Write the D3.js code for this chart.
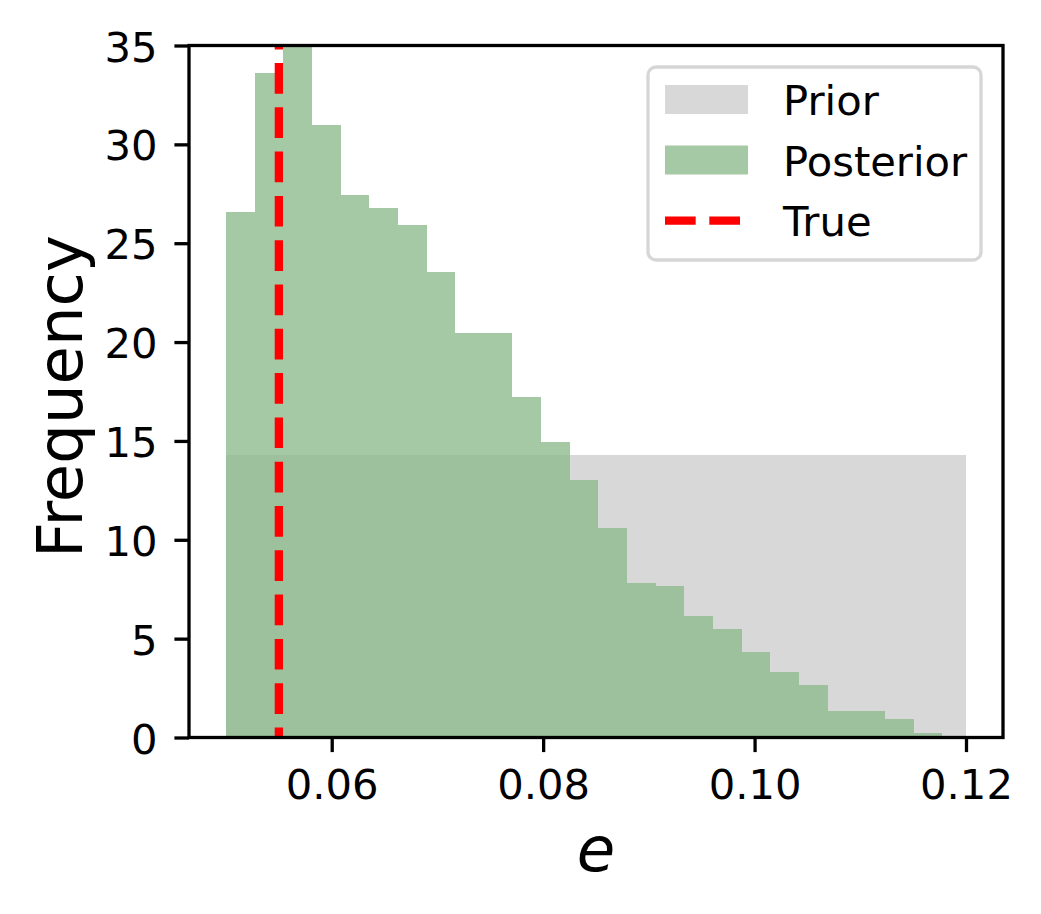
<!DOCTYPE html>
<html>
<head>
<meta charset="utf-8">
<script src="https://cdn.jsdelivr.net/npm/d3@7"></script>
<style>
  body { margin: 0; background: #fff; }
  svg { display: block; font-family: "DejaVu Sans", sans-serif; }
</style>
</head>
<body>
<div id="chart"></div>
<script>
// prior: one flat density bin over [0.05, 0.12]
const priorEdges = [0.05, 0.12];
const priorDensity = [14.29];

// posterior histogram (density), 25 equal bins starting at 0.05
const postStart = 0.05;
const postBinWidth = 0.00271;
const postDensity = [26.6, 33.6, 36.1, 30.96, 27.42, 26.76, 25.9, 23.52, 20.48, 20.48,
  17.24, 14.96, 13.04, 10.61, 7.82, 7.67, 6.15, 5.49, 4.33, 3.32,
  2.66, 1.34, 1.34, 0.94, 0.23];

const trueValue = 0.055;

const xTicks = [0.06, 0.08, 0.10, 0.12];
const yTicks = [0, 5, 10, 15, 20, 25, 30, 35];
const legendItems = ["Prior", "Posterior", "True"];

const width = 1041;
const height = 914;
const marginLeft = 189;
const marginRight = 38;
const marginTop = 45.5;
const marginBottom = 176.5;

const x = d3.scaleLinear()
    .domain([0.0465, 0.1235])
    .range([marginLeft, width - marginRight]);

const y = d3.scaleLinear()
    .domain([0, 35])
    .range([height - marginBottom, marginTop]);

const svg = d3.select("#chart").append("svg")
    .attr("width", width)
    .attr("height", height)
    .attr("viewBox", [0, 0, width, height]);

svg.append("defs").append("clipPath")
    .attr("id", "plotArea")
  .append("rect")
    .attr("x", marginLeft)
    .attr("y", marginTop)
    .attr("width", width - marginRight - marginLeft)
    .attr("height", height - marginBottom - marginTop);

const plot = svg.append("g").attr("clip-path", "url(#plotArea)");

// prior
plot.append("g")
  .selectAll("rect")
  .data(priorDensity)
  .join("rect")
    .attr("x", (d, i) => x(priorEdges[i]))
    .attr("width", (d, i) => x(priorEdges[i + 1]) - x(priorEdges[i]))
    .attr("y", d => y(d))
    .attr("height", d => y(0) - y(d))
    .attr("fill", "#d8d8d8");

// posterior
plot.append("g")
  .selectAll("rect")
  .data(postDensity)
  .join("rect")
    .attr("x", (d, i) => x(postStart + i * postBinWidth))
    .attr("width", x(postStart + postBinWidth) - x(postStart))
    .attr("y", d => y(d))
    .attr("height", d => y(0) - y(d))
    .attr("fill", "darkseagreen")
    .attr("fill-opacity", 0.8)
    .attr("shape-rendering", "crispEdges");

// true value line
plot.append("line")
    .attr("x1", x(trueValue))
    .attr("x2", x(trueValue))
    .attr("y1", y(0))
    .attr("y2", y(35))
    .attr("stroke", "red")
    .attr("stroke-width", 8.3)
    .attr("stroke-dasharray", "30.7,13.6")
    .attr("stroke-dashoffset", 20.7);

// axes
const tickFont = 41.7;

svg.append("g")
    .attr("transform", `translate(0,${y(0)})`)
    .call(d3.axisBottom(x).tickValues(xTicks).tickFormat(d3.format(".2f")).tickSize(14.6).tickSizeOuter(0))
    .call(g => g.select(".domain").remove())
    .call(g => g.selectAll(".tick line").attr("stroke", "#000").attr("stroke-width", 3.3))
    .call(g => g.selectAll(".tick text")
        .attr("y", 61.5).attr("dy", null)
        .attr("fill", "#000")
        .attr("font-size", tickFont)
        .attr("font-family", "DejaVu Sans"));

svg.append("g")
    .attr("transform", `translate(${marginLeft},0)`)
    .call(d3.axisLeft(y).tickValues(yTicks).tickSize(14.6).tickSizeOuter(0))
    .call(g => g.select(".domain").remove())
    .call(g => g.selectAll(".tick line").attr("stroke", "#000").attr("stroke-width", 3.3))
    .call(g => g.selectAll(".tick text")
        .attr("x", -31.5).attr("dy", 15.5)
        .attr("fill", "#000")
        .attr("font-size", tickFont)
        .attr("font-family", "DejaVu Sans"));

// frame
svg.append("rect")
    .attr("x", marginLeft)
    .attr("y", marginTop)
    .attr("width", width - marginRight - marginLeft)
    .attr("height", height - marginBottom - marginTop)
    .attr("fill", "none")
    .attr("stroke", "#000")
    .attr("stroke-width", 3.3);

// axis labels
svg.append("text")
    .attr("x", (marginLeft + width - marginRight) / 2)
    .attr("y", 871)
    .attr("text-anchor", "middle")
    .attr("font-size", 62.5)
    .attr("font-style", "italic")
    .text("e");

svg.append("text")
    .attr("transform", `translate(82,${(marginTop + height - marginBottom) / 2 + 5}) rotate(-90)`)
    .attr("text-anchor", "middle")
    .attr("font-size", 62.5)
    .text("Frequency");

// legend
const legend = svg.append("g");

legend.append("rect")
    .attr("x", 648)
    .attr("y", 67)
    .attr("width", 333)
    .attr("height", 193)
    .attr("rx", 8)
    .attr("fill", "#fff")
    .attr("fill-opacity", 0.8)
    .attr("stroke", "#d6d6d6")
    .attr("stroke-width", 3.3);

const rowY = [99.5, 160, 220.7];

legend.append("rect")
    .attr("x", 665).attr("y", rowY[0] - 14.5)
    .attr("width", 83).attr("height", 29)
    .attr("fill", "#d8d8d8");

legend.append("rect")
    .attr("x", 665).attr("y", rowY[1] - 14.5)
    .attr("width", 83).attr("height", 29)
    .attr("fill", "darkseagreen")
    .attr("fill-opacity", 0.8);

legend.append("line")
    .attr("x1", 665).attr("x2", 748)
    .attr("y1", rowY[2]).attr("y2", rowY[2])
    .attr("stroke", "red")
    .attr("stroke-width", 8.3)
    .attr("stroke-dasharray", "30.7,13.6");

legend.selectAll("text.item")
  .data(legendItems)
  .join("text")
    .attr("class", "item")
    .attr("x", 783)
    .attr("y", (d, i) => rowY[i] + 15.5)
    .attr("font-size", tickFont)
    .attr("fill", "#000")
    .text(d => d);
</script>
</body>
</html>
